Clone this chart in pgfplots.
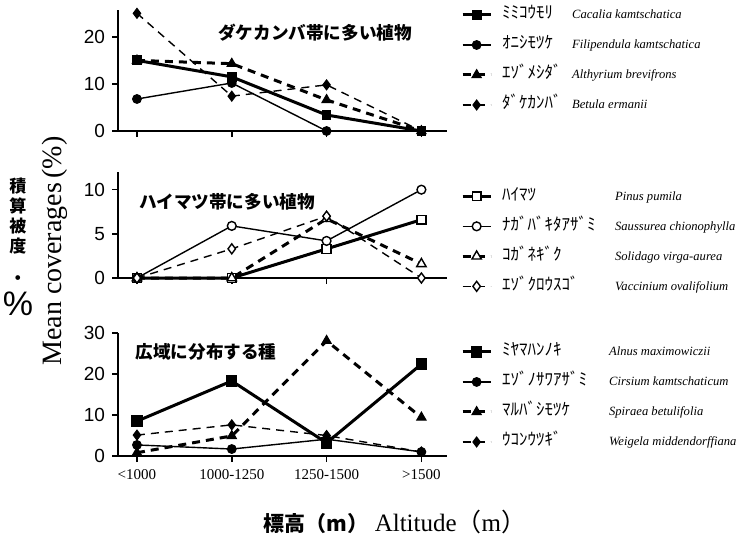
\documentclass[border=0pt]{standalone}
\usepackage{fontspec}
\setmainfont{Liberation Serif}
\setsansfont{Liberation Sans}
\newfontfamily\cjk{Noto Sans CJK JP}
\usepackage{pgfplots}
\pgfplotsset{compat=1.18}

\newcommand{\lgd}[3]{\hspace*{5pt}\makebox[#1][l]{\cjk\fontsize{8.5}{9}\selectfont #2}{\fontsize{6.3}{7}\selectfont\itshape #3}}

\pgfplotsset{
 panel/.style={
  scale only axis, width=164.5pt, clip=false,
  axis x line*=bottom, axis y line*=left,
  xmin=-0.2, xmax=3.27, ymin=0,
  xtick={0,1,2,3}, xticklabels={,,,},
  tick align=outside, major tick length=3pt,
  every tick/.style={black, line width=0.8pt},
  axis line style={line width=0.9pt},
  yticklabel style={font=\sffamily\fontsize{9.5}{10}\selectfont},
  /pgf/number format/assume math mode=true,
  legend cell align=left,
  legend style={draw=none, fill=none, inner sep=0pt, outer sep=0pt, row sep=7pt, anchor=north west,
    nodes={inner sep=0pt, text height=6pt, text depth=2pt}},
  legend image code/.code={\draw[mark repeat=2,mark phase=2,##1] plot coordinates {(0pt,0pt) (7pt,0pt) (14pt,0pt)};},
 },
 sA/.style={black, line width=1.5pt, mark=square*, mark size=2.2pt, mark options={solid, line width=0.5pt}},
 sB/.style={black, line width=0.7pt, mark=*, mark size=2.2pt, mark options={solid, line width=0.5pt}},
 sC/.style={black, line width=1.5pt, dash pattern=on 4pt off 3pt, mark=triangle*, mark size=2.7pt, mark options={solid, line width=0.5pt}},
 sD/.style={black, line width=0.7pt, dash pattern=on 4pt off 3pt, mark=diamond*, mark size=2.5pt, mark options={solid, line width=0.5pt}},
 open/.style={mark options={solid, fill=white, line width=0.7pt}},
}

\begin{document}
\begin{tikzpicture}
\useasboundingbox (0,0) rectangle (370pt,-274pt);

% Panel 1
\begin{axis}[panel, at={(59pt,-65.5pt)}, anchor=south west, height=60.5pt, ymax=25.7,
  ytick={0,10,20},
  legend style={at={(axis description cs:1.043,1.025)}}]
\addplot[sA] coordinates {(0,15) (1,11.5) (2,3.4) (3,0)};
\addlegendentry{\lgd{35pt}{ﾐﾐｺｳﾓﾘ}{Cacalia kamtschatica}}
\addplot[sB] coordinates {(0,6.8) (1,10.2) (2,0) (3,0)};
\addlegendentry{\lgd{35pt}{ｵﾆｼﾓﾂｹ}{Filipendula kamtschatica}}
\addplot[sC] coordinates {(0,15) (1,14.3) (2,6.6) (3,0)};
\addlegendentry{\lgd{35pt}{ｴｿﾞﾒｼﾀﾞ}{Althyrium brevifrons}}
\addplot[sD] coordinates {(0,25) (1,7.4) (2,9.8) (3,0)};
\addlegendentry{\lgd{35pt}{ﾀﾞｹｶﾝﾊﾞ}{Betula ermanii}}
\end{axis}

% Panel 2
\begin{axis}[panel, at={(59pt,-139pt)}, anchor=south west, height=53pt, ymax=12,
  ytick={0,5,10},
  legend style={at={(axis description cs:1.043,0.846)}}]
\addplot[sA, open] coordinates {(0,0) (1,0) (2,3.3) (3,6.6)};
\addlegendentry{\lgd{56.5pt}{ﾊｲﾏﾂ}{Pinus pumila}}
\addplot[sB, open] coordinates {(0,0) (1,5.9) (2,4.2) (3,10)};
\addlegendentry{\lgd{56.5pt}{ﾅｶﾞﾊﾞｷﾀｱｻﾞﾐ}{Saussurea chionophylla}}
\addplot[sC, open] coordinates {(0,0) (1,0) (2,6.7) (3,1.6)};
\addlegendentry{\lgd{56.5pt}{ｺｶﾞﾈｷﾞｸ}{Solidago virga-aurea}}
\addplot[sD, open] coordinates {(0,0) (1,3.3) (2,7.0) (3,0)};
\addlegendentry{\lgd{56.5pt}{ｴｿﾞｸﾛｳｽｺﾞ}{Vaccinium ovalifolium}}
\end{axis}

% Panel 3
\begin{axis}[panel, at={(59pt,-228pt)}, anchor=south west, height=61.5pt, ymax=30,
  ytick={0,10,20,30},
  xticklabels={<1000,1000-1250,1250-1500,>1500},
  xticklabel style={font=\fontsize{7.5}{8}\selectfont},
  xlabel={{\cjk\bfseries\fontsize{10.5}{12}\selectfont 標高（m）}\ Altitude{\cjk （}m{\cjk ）}},
  xlabel style={at={(axis description cs:0.842,-0.537)}, anchor=center, font=\fontsize{12.5}{13}\selectfont},
  legend style={at={(axis description cs:1.043,0.911)}}]
\addplot[sA, mark size=2.6pt] coordinates {(0,8.5) (1,18.3) (2,3.2) (3,22.4)};
\addlegendentry{\lgd{53.5pt}{ﾐﾔﾏﾊﾝﾉｷ}{Alnus maximowiczii}}
\addplot[sB] coordinates {(0,2.7) (1,1.7) (2,4.1) (3,1.0)};
\addlegendentry{\lgd{53.5pt}{ｴｿﾞﾉｻﾜｱｻﾞﾐ}{Cirsium kamtschaticum}}
\addplot[sC] coordinates {(0,0.8) (1,4.9) (2,28.1) (3,9.4)};
\addlegendentry{\lgd{53.5pt}{ﾏﾙﾊﾞｼﾓﾂｹ}{Spiraea betulifolia}}
\addplot[sD] coordinates {(0,5.1) (1,7.6) (2,5.0) (3,1.0)};
\addlegendentry{\lgd{53.5pt}{ｳｺﾝｳﾂｷﾞ}{Weigela middendorffiana}}
\end{axis}

% titles
\node[font=\cjk\bfseries\fontsize{8.8}{10}\selectfont] at (157.5pt,-16.5pt) {ダケカンバ帯に多い植物};
\node[font=\cjk\bfseries\fontsize{8.8}{10}\selectfont] at (113.5pt,-101pt) {ハイマツ帯に多い植物};
\node[font=\cjk\bfseries\fontsize{8.8}{10}\selectfont] at (103pt,-176pt) {広域に分布する種};

% y labels
\node[anchor=north, align=center, inner sep=0pt, font=\cjk\bfseries\fontsize{8.5}{10}\selectfont] at (9pt,-89pt)
  {積\\算\\被\\度\\[6pt]・};
\node[inner sep=0pt, font=\sffamily\fontsize{17}{17}\selectfont] at (9pt,-152pt) {\%};
\node[rotate=90, font=\fontsize{14}{15}\selectfont] at (27.5pt,-125.5pt) {Mean coverages\,(\%)};
\end{tikzpicture}
\end{document}
